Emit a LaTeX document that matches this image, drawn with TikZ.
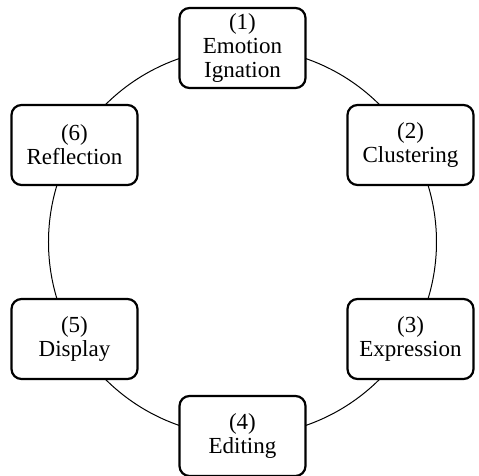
\documentclass[tikz,border=0pt]{standalone}
\usepackage{fontspec}
\setmainfont{Liberation Serif}
\usepackage{tikz}
\usetikzlibrary{positioning,calc}

\begin{document}
\begin{tikzpicture}[
  font=\fontsize{11.5}{12}\selectfont,
  stage/.style={rectangle, draw=black, fill=white, line width=1.1pt,
                rounded corners=5pt, align=center, inner sep=1pt,
                minimum width=63pt, minimum height=40pt},
  ring/.style ={draw=black, line width=0.5pt},
]
\useasboundingbox (-121.25pt,-117pt) rectangle (118.25pt,121pt);

% === Cycle ===
\coordinate (c) at (0,0);
\draw[ring] (c) circle[radius=97pt];

% === Stages ===
\node[stage] (ignite)  at ($(c)+(90:97pt)$)   {(1)\\Emotion\\Ignation};
\node[stage] (cluster) at ($(c)+(30:97pt)$)   {(2)\\Clustering};
\node[stage] (express) at ($(c)+(-30:97pt)$)  {(3)\\Expression};
\node[stage] (edit)    at ($(c)+(-90:97pt)$)  {(4)\\Editing};
\node[stage] (show)    at ($(c)+(-150:97pt)$) {(5)\\Display};
\node[stage] (reflect) at ($(c)+(150:97pt)$)  {(6)\\Reflection};

\end{tikzpicture}
\end{document}
